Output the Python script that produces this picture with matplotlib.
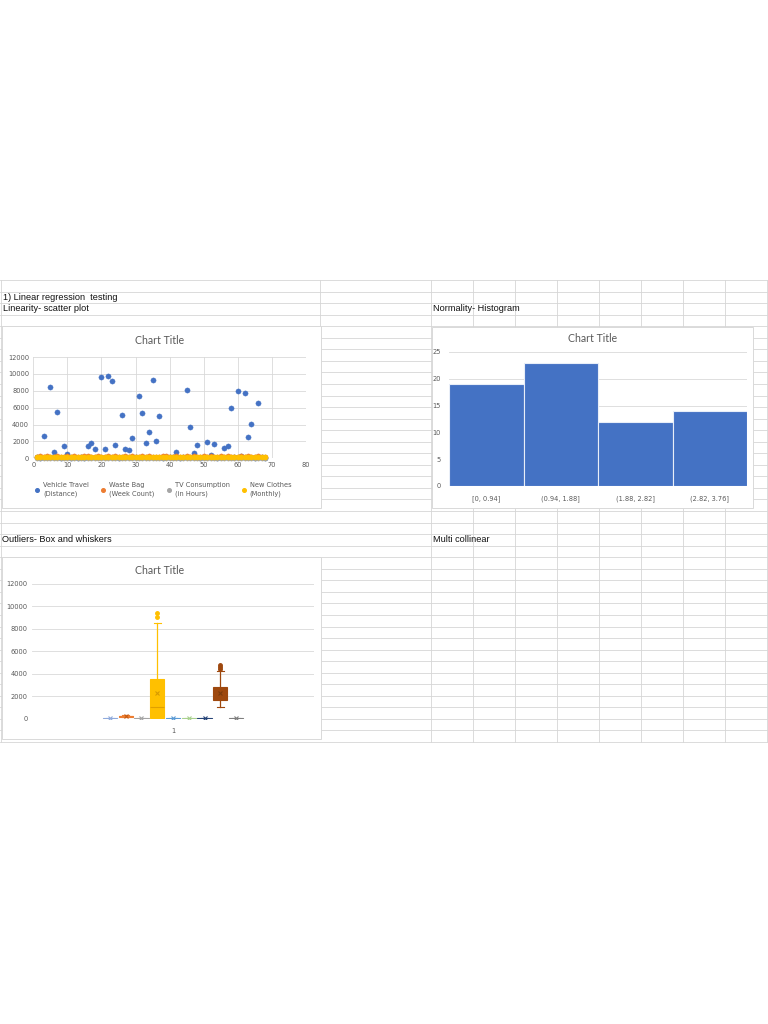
import matplotlib
matplotlib.use("Agg")
import matplotlib.pyplot as plt
from matplotlib.patches import Rectangle
from matplotlib.lines import Line2D

# ---------------- data ----------------
row_index = list(range(1, 69))
vehicle_travel = [120, 60, 2600, 150, 8500, 750, 5440, 90, 1420, 550,
                  40, 180, 70, 110, 30, 1420, 1815, 1140, 140, 9590,
                  1140, 9740, 9150, 1540, 80, 5130, 1140, 1030, 2400, 200,
                  7380, 5330, 1815, 3080, 9230, 2010, 5050, 50, 130, 95,
                  160, 750, 25, 210, 8050, 3670, 670, 1620, 75, 120,
                  1890, 360, 1740, 45, 170, 1260, 1460, 5920, 100, 7970,
                  230, 7770, 2490, 4060, 65, 6590, 140, 85]
waste_bag = [180, 220, 150, 260, 200, 170, 240, 210, 190, 230, 160, 250, 200, 180, 220, 270, 150,
             210, 240, 190, 200, 230, 170, 260, 210, 180, 220, 150, 240, 200, 190, 230, 160, 250,
             210, 200, 180, 220, 270, 150, 210, 240, 190, 200, 230, 170, 260, 210, 180, 220, 150,
             240, 200, 190, 230, 160, 250, 210, 200, 180, 220, 170, 240, 190, 210, 230, 200, 180]
tv_consumption = [3, 5, 2, 4, 6, 3, 1, 4, 5, 2, 3, 6, 4, 2, 5, 3, 4,
                  5, 2, 4, 3, 6, 1, 3, 5, 4, 2, 6, 3, 4, 5, 2, 3, 4,
                  4, 6, 3, 2, 5, 4, 1, 3, 6, 4, 5, 2, 3, 4, 6, 2, 3,
                  3, 5, 4, 2, 6, 3, 4, 1, 5, 3, 2, 4, 6, 3, 5, 4, 2]
new_clothes = [120, 150, 100, 180, 140, 110, 160, 130, 170, 120, 150, 190, 110, 140, 160, 100, 130,
               170, 120, 150, 140, 180, 110, 160, 130, 120, 190, 140, 100, 150, 170, 120, 160, 130,
               140, 110, 180, 150, 120, 160, 130, 170, 100, 150, 140, 190, 120, 110, 160, 130, 150,
               120, 170, 140, 110, 150, 180, 130, 160, 120, 140, 190, 100, 150, 130, 170, 120, 140]
scatter_labels = ["Vehicle Travel\n(Distance)", "Waste Bag\n(Week Count)",
                  "TV Consumption\n(in Hours)", "New Clothes\n(Monthly)"]

hist_bins = ["[0, 0.94]", "(0.94, 1.88]", "(1.88, 2.82]", "(2.82, 3.76]"]
hist_counts = [19, 23, 12, 14]

box_category = "1"
box_q1 = [0, 150, 0, 90, 0, 0, 0, 1670, 0]
box_med = [10, 200, 10, 1070, 10, 10, 10, 2200, 10]
box_q3 = [30, 260, 30, 3510, 30, 30, 30, 2800, 30]
box_whislo = [0, 120, 0, 0, 0, 0, 0, 1015, 0]
box_whishi = [60, 300, 60, 8550, 60, 60, 60, 4280, 60]
box_mean = [20, 210, 20, 2260, 20, 20, 20, 2260, 20]
box_fliers = [[], [], [], [9030, 9440], [], [], [], [4400, 4580, 4785], []]

# ---------------- styles ----------------
W, H = 768, 1024
TXT = '#595959'
GRID = '#D9D9D9'
SHEET = '#D6D6D6'
series_colors = ['#4472C4', '#ED7D31', '#A5A5A5', '#FFC000']
box_colors = ['#8FAADC', '#ED7D31', '#A5A5A5', '#FFC000', '#5B9BD5',
              '#A9D18E', '#264478', '#9E480E', '#7F7F7F']
mean_colors = ['#8FAADC', '#C55A11', '#A5A5A5', '#D79A00', '#5B9BD5',
               '#A9D18E', '#264478', '#7A3A0B', '#7F7F7F']
TITLE_FONT = 'Lato'
SHEET_FONT = 'Liberation Sans'

fig = plt.figure(figsize=(7.68, 10.24), dpi=100)
fig.patch.set_facecolor('white')


def rect(x0, y0, x1, y1):
    return [x0 / W, 1 - y1 / H, (x1 - x0) / W, (y1 - y0) / H]


bg = fig.add_axes([0, 0, 1, 1])
bg.set_xlim(0, W)
bg.set_ylim(H, 0)
bg.axis('off')

# spreadsheet grid
row_top, row_h, n_rows = 280, 11.55, 40
row_bottom = row_top + n_rows * row_h
for k in range(n_rows + 1):
    y = row_top + k * row_h
    bg.plot([0, 767], [y, y], color=SHEET, lw=0.6, zorder=1)
for x in [431, 473, 515, 557, 599, 641, 683, 725, 767]:
    bg.plot([x, x], [row_top, row_bottom], color=SHEET, lw=0.6, zorder=1)
bg.plot([320, 320], [row_top, 326], color=SHEET, lw=0.6, zorder=1)
bg.plot([0.5, 0.5], [row_top, row_bottom], color=SHEET, lw=0.6, zorder=1)

# chart frames
for (x0, y0, x1, y1) in [(2, 326, 321, 508), (432, 327, 753, 508), (2, 557, 321, 739)]:
    bg.add_patch(Rectangle((x0, y0), x1 - x0, y1 - y0, facecolor='white',
                           edgecolor='#D9D9D9', lw=0.7, zorder=2))

# sheet labels
for (x, y, s) in [(3, 297, "1) Linear regression  testing"),
                  (3, 308.5, "Linearity- scatter plot"),
                  (433, 308.5, "Normality- Histogram"),
                  (2, 540, "Outliers- Box and whiskers"),
                  (433, 540, "Multi collinear")]:
    bg.text(x, y, s, fontsize=6.6, family=SHEET_FONT, color='#111111',
            ha='left', va='center', zorder=3)

# chart titles
for (x, y) in [(160, 340), (593, 338.5), (160, 570)]:
    bg.text(x, y, "Chart Title", fontsize=7.6, family=TITLE_FONT, color=TXT,
            ha='center', va='center', zorder=3)


def style_axes(ax):
    for sp in ax.spines.values():
        sp.set_visible(False)
    ax.tick_params(length=0, labelsize=4.8, labelcolor=TXT, pad=3)
    ax.set_facecolor('none')
    ax.set_axisbelow(True)


# ---------------- scatter ----------------
ax1 = fig.add_axes(rect(33.3, 357, 306, 458.3))
style_axes(ax1)
ax1.set_xlim(0, 80)
ax1.set_ylim(0, 12000)
ax1.set_xticks(range(0, 81, 10))
ax1.set_yticks(range(0, 12001, 2000))
ax1.grid(True, color=GRID, lw=0.6)
for vals, col in zip([vehicle_travel, waste_bag, tv_consumption, new_clothes], series_colors):
    ax1.scatter(row_index, vals, s=14, color=col, edgecolors=col, linewidths=0.3,
                zorder=3, clip_on=False)

handles = [Line2D([], [], ls='none', marker='o', markersize=2.6, color=c) for c in series_colors]
leg = fig.legend(handles, scatter_labels, loc='center', ncol=4,
                 bbox_to_anchor=(163 / W, 1 - 489.5 / H), frameon=False,
                 fontsize=4.8, labelcolor=TXT, handlelength=0.8, handletextpad=0.5,
                 columnspacing=1.7)
for t in leg.get_texts():
    t.set_linespacing(1.55)

# ---------------- histogram ----------------
ax2 = fig.add_axes(rect(449, 352, 747, 486))
style_axes(ax2)
ax2.bar(range(len(hist_counts)), hist_counts, width=1.0, color='#4472C4',
        edgecolor='#E8EEF8', linewidth=0.8, zorder=3)
ax2.set_xlim(-0.5, len(hist_counts) - 0.5)
ax2.set_ylim(0, 25)
ax2.set_yticks(range(0, 26, 5))
ax2.set_xticks(range(len(hist_counts)))
ax2.set_xticklabels(hist_bins)
ax2.yaxis.grid(True, color=GRID, lw=0.6)
ax2.tick_params(axis='x', pad=7)
ax2.tick_params(axis='y', pad=6)

# ---------------- box & whisker ----------------
ax3 = fig.add_axes(rect(32, 584, 314, 718.7))
style_axes(ax3)
stats = []
for i in range(len(box_q1)):
    stats.append(dict(q1=box_q1[i], med=box_med[i], q3=box_q3[i],
                      whislo=box_whislo[i], whishi=box_whishi[i],
                      mean=box_mean[i], fliers=box_fliers[i]))
positions = list(range(len(stats)))
bp = ax3.bxp(stats, positions=positions, widths=0.9, capwidths=0.45,
             patch_artist=True, showmeans=True, showfliers=True, manage_ticks=False)
for i, col in enumerate(box_colors):
    bp['boxes'][i].set(facecolor=col, edgecolor=col, linewidth=0.8)
    bp['medians'][i].set(color='#E0A000' if i == 3 else col, linewidth=0.8)
    bp['means'][i].set(marker='x', markersize=3.5, markeredgecolor=mean_colors[i],
                       markeredgewidth=0.8)
    for w in bp['whiskers'][2 * i:2 * i + 2]:
        w.set(color=col, linewidth=0.9)
    for c in bp['caps'][2 * i:2 * i + 2]:
        c.set(color=col, linewidth=0.8)
    bp['fliers'][i].set(marker='o', markersize=2.5, markerfacecolor=col, markeredgecolor=col)
ax3.set_xlim(-4.95, 12.95)
ax3.set_ylim(0, 12000)
ax3.set_yticks(range(0, 12001, 2000))
ax3.set_xticks([4])
ax3.set_xticklabels([box_category])
ax3.yaxis.grid(True, color=GRID, lw=0.6)
ax3.tick_params(axis='x', pad=7)

fig.savefig('out.png', dpi=100, facecolor='white')
